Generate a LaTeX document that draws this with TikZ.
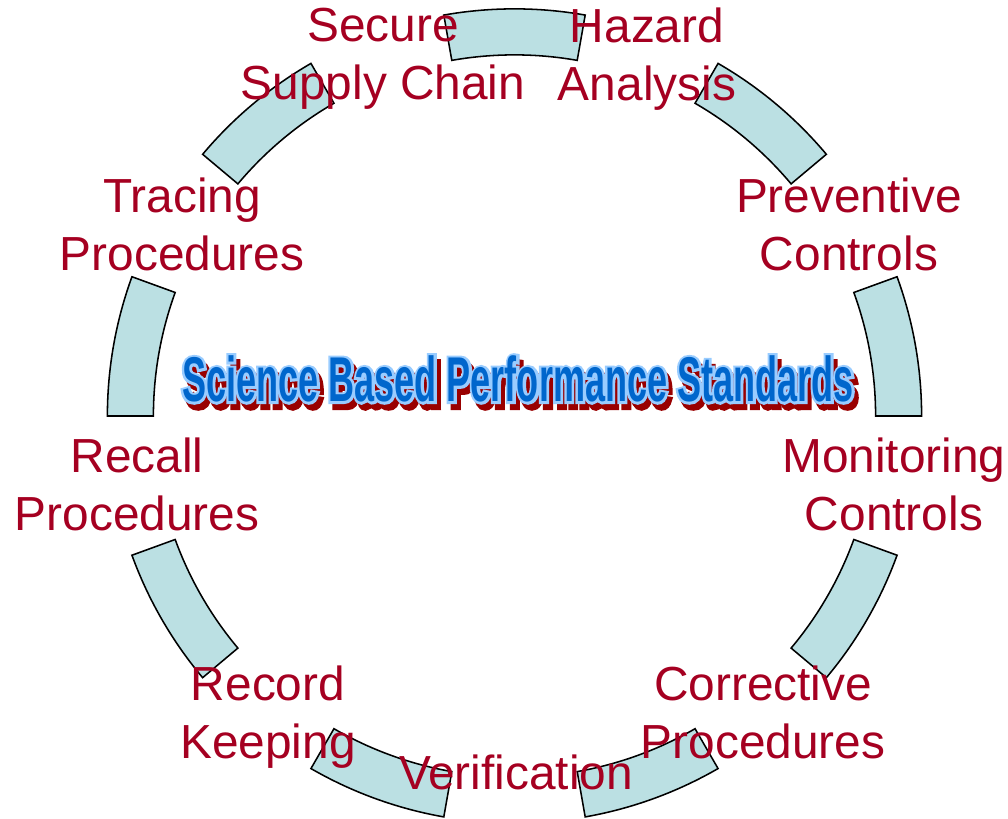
\documentclass[tikz,border=0pt]{standalone}
\usepackage{fontspec}
\setmainfont{Liberation Sans}
\newfontfamily\titlefont{Liberation Sans}[FakeStretch=0.57]
\newfontfamily\titleedgefont{Liberation Sans}[FakeStretch=0.57, BoldFeatures={FakeBold=8}]
\usetikzlibrary{calc}

\definecolor{labelred}{HTML}{A50021}
\definecolor{arcfill}{HTML}{BBE0E3}
\definecolor{titleblue}{HTML}{0066CC}
\definecolor{titleedge}{HTML}{99CCFF}
\definecolor{titleshadow}{HTML}{990000}

\newcommand{\titletext}{Science Based Performance Standards}

\tikzset{
  ring/.style={draw=black, line width=1.1pt, fill=arcfill},
  steplabel/.style={text=labelred, font=\fontsize{34}{41.3}\selectfont, align=center, anchor=north, inner sep=0pt},
  titlestyle/.style={font=\titlefont\bfseries\fontsize{45}{50}\selectfont, inner sep=0pt},
  titleedgestyle/.style={font=\titleedgefont\bfseries\fontsize{45}{50}\selectfont, inner sep=0pt},
}

\begin{document}
\begin{tikzpicture}[x=0.025cm, y=0.025cm]
\useasboundingbox (0,0) rectangle (1008,819);

% centre of the ring
\coordinate (c) at (514.5,403);

% ring segments
\foreach \a [evaluate=\a as \b using \a+20] in {0,40,...,320}
  \draw[ring] ([shift={(c)}]\a:9.025cm) arc[start angle=\a, end angle=\b, radius=9.025cm]
    -- ([shift={(c)}]\b:10.175cm) arc[start angle=\b, end angle=\a, radius=10.175cm] -- cycle;

% title with shadow and outline
\coordinate (tpos) at (518,440);
\node[titleedgestyle, text=titleshadow] (shadow) at ($(tpos)+(4,-6)$) {\titletext};
\node[titleedgestyle, text=titleedge] (edge) at (tpos) {\titletext};
\node[titlestyle, text=titleblue] (title) at (tpos) {\titletext};

% step labels
\node[steplabel] (secure) at (383,811) {Secure\\Supply Chain};
\node[steplabel] (hazard) at (647,811) {Hazard\\Analysis};
\node[steplabel] (preventive) at (849,641) {Preventive\\Controls};
\node[steplabel] (monitoring) at (894,381) {Monitoring\\Controls};
\node[steplabel] (corrective) at (763,153) {Corrective\\Procedures};
\node[steplabel] (verification) at (516,64) {Verification};
\node[steplabel] (record) at (268,153) {Record\\Keeping};
\node[steplabel] (recall) at (137,381) {Recall\\Procedures};
\node[steplabel] (tracing) at (182,641) {Tracing\\Procedures};

\end{tikzpicture}
\end{document}
